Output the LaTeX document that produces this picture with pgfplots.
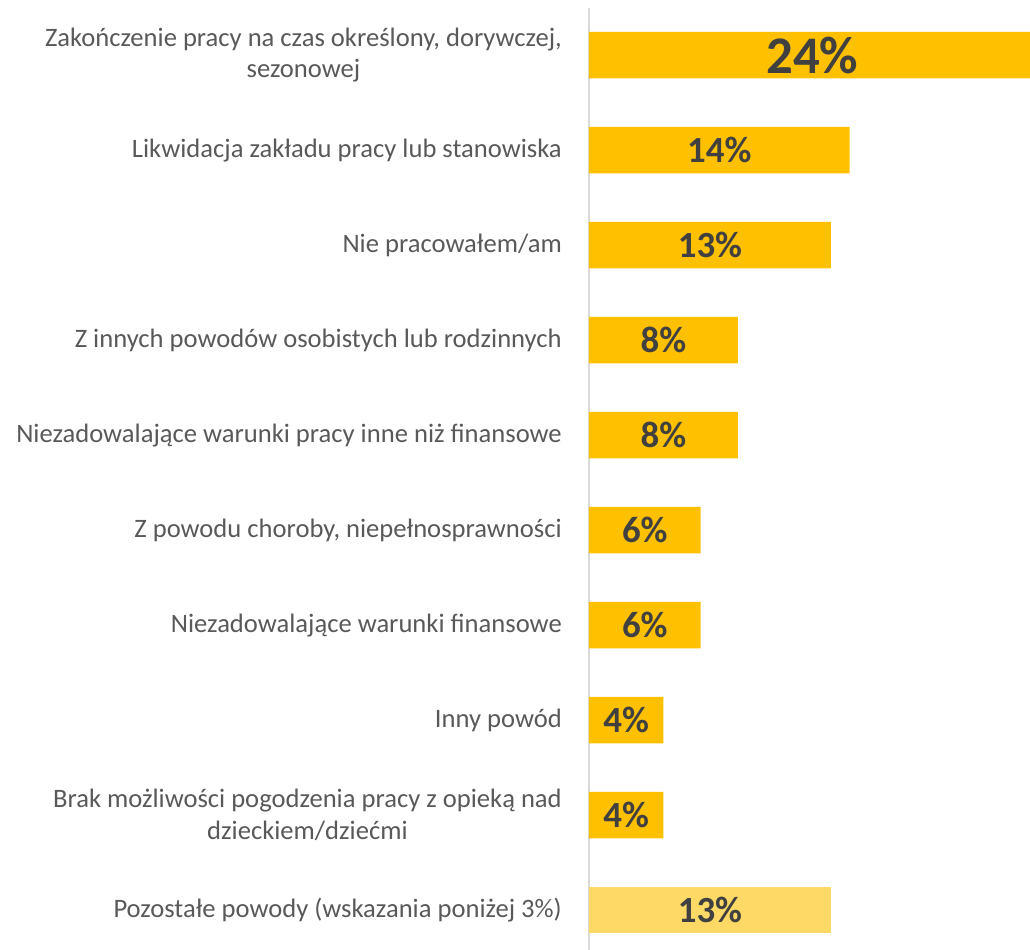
\documentclass[border=0pt]{standalone}
\usepackage{pgfplots}
\pgfplotsset{compat=1.18}
\usepackage{pgfplotstable}
\usepackage{fontspec}
\setmainfont{Carlito}

\definecolor{gold}{HTML}{FFC000}
\definecolor{lightgold}{HTML}{FFD966}
\definecolor{txt}{HTML}{595959}
\definecolor{lbl}{HTML}{404040}
\definecolor{axisgray}{HTML}{D9D9D9}

% shares of answers, top to bottom
\pgfplotstableread{
idx val
0 24
1 14
2 13
3 8
4 8
5 6
6 6
7 4
8 4
}\main
\pgfplotstableread{
idx val
9 13
}\rest

\begin{document}
\begin{tikzpicture}
\path[use as bounding box] (-589bp,0) rectangle (441bp,950bp);
\begin{axis}[
    at={(0,0)}, anchor=south west,
    scale only axis, width=441bp, height=942.4bp,
    xmin=0, xmax=23.7, ymin=-0.5, ymax=9.42, y dir=reverse,
    hide x axis,
    axis y line=left,
    y axis line style={-, draw=axisgray, line width=1.6bp},
    major tick length=0pt,
    ytick={0,...,9},
    yticklabels={
        {Zakończenie pracy na czas określony, dorywczej,\\sezonowej},
        {Likwidacja zakładu pracy lub stanowiska},
        {Nie pracowałem/am},
        {Z innych powodów osobistych lub rodzinnych},
        {Niezadowalające warunki pracy inne niż finansowe},
        {Z powodu choroby, niepełnosprawności},
        {Niezadowalające warunki finansowe},
        {Inny powód},
        {Brak możliwości pogodzenia pracy z opieką nad\\dzieckiem/dziećmi},
        {Pozostałe powody (wskazania poniżej 3\%)}},
    yticklabel style={align=center, inner sep=0pt, xshift=-27bp,
        text=txt, font=\fontsize{26.7}{32}\selectfont},
    bar width=0.49, bar shift=0pt,
    /pgf/number format/assume math mode=true,
]
\addplot[xbar, draw=none, fill=gold] table[x=val, y=idx] {\main};
\addplot[xbar, draw=none, fill=lightgold] table[x=val, y=idx] {\rest};
% value labels in the middle of the bars
\addplot[draw=none, mark=none, point meta=explicit,
    nodes near coords={\pgfmathprintnumber{\pgfplotspointmeta}\%},
    nodes near coords style={anchor=center, text=lbl, font=\bfseries\fontsize{53}{60}\selectfont}]
    table[x expr=\thisrow{val}/2, y=idx, meta=val] {
idx val
0 24
};
\addplot[draw=none, mark=none, point meta=explicit,
    nodes near coords={\pgfmathprintnumber{\pgfplotspointmeta}\%},
    nodes near coords style={anchor=center, text=lbl, font=\bfseries\fontsize{37}{42}\selectfont}]
    table[x expr=\thisrow{val}/2, y=idx, meta=val] {
idx val
1 14
2 13
3 8
4 8
5 6
6 6
7 4
8 4
9 13
};
\end{axis}
\end{tikzpicture}
\end{document}
